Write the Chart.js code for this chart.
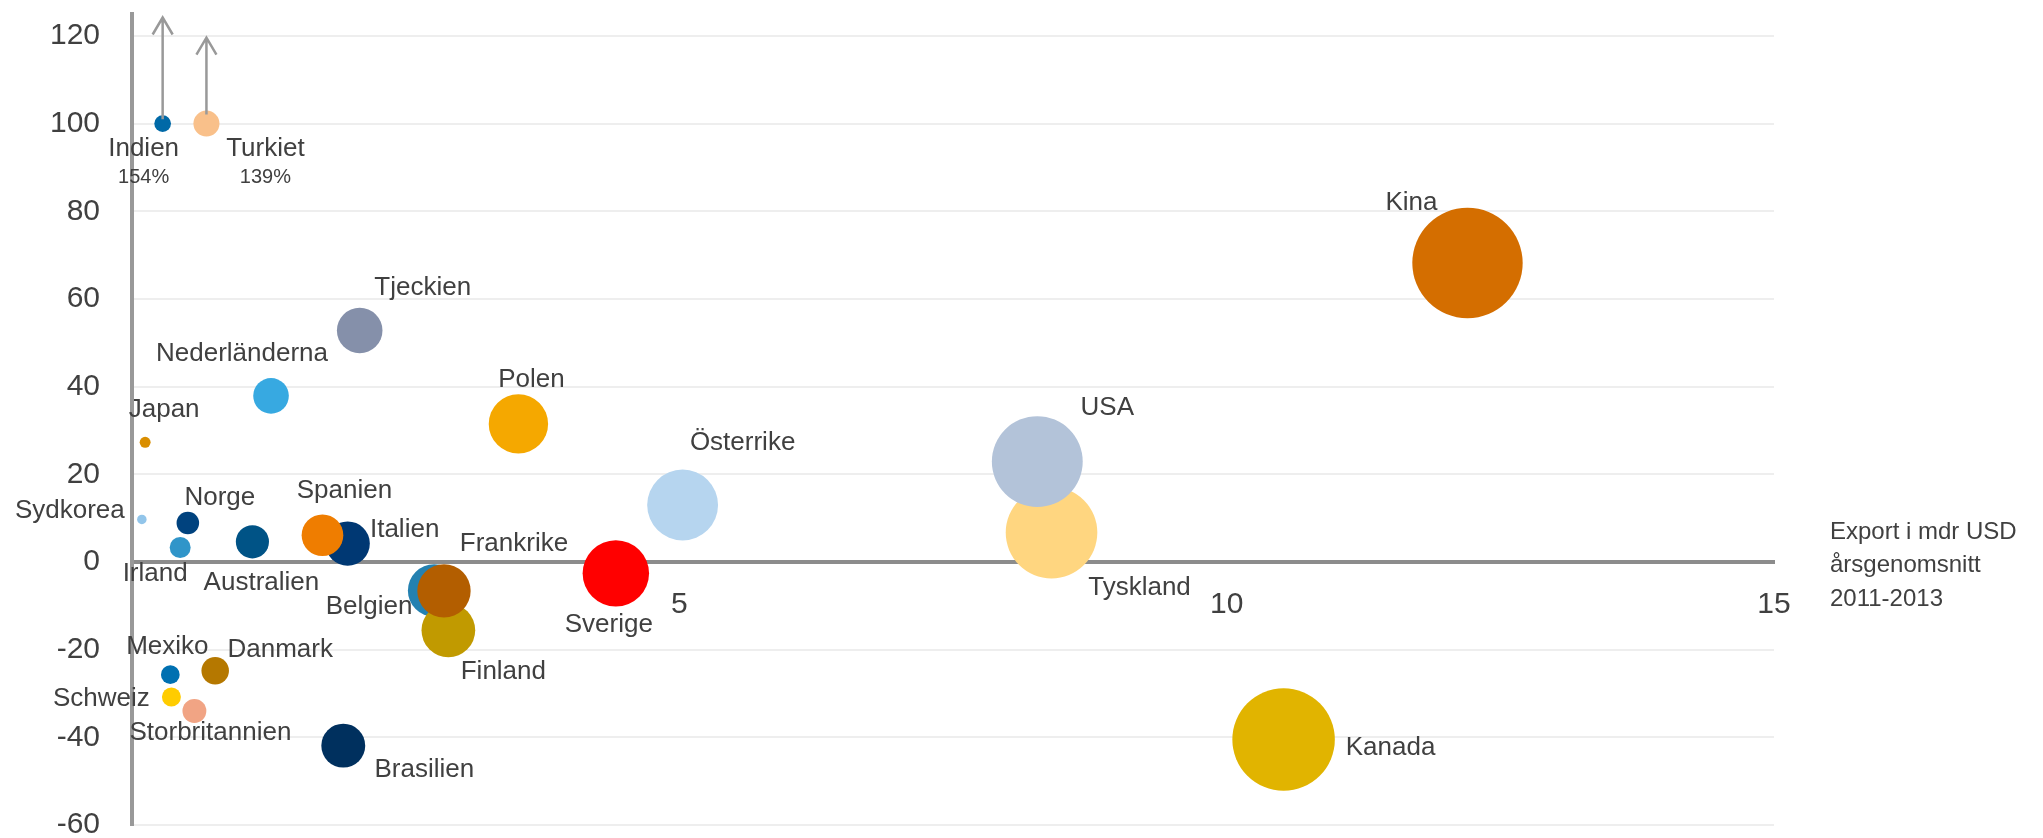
<!DOCTYPE html>
<html lang="sv">
<head>
    <meta charset="UTF-8">
    <title>Export och tillväxt per land</title>
    <style>
        body {
            margin: 0;
            padding: 0;
            background-color: #ffffff;
        }
        #wrap {
            width: 2043px;
            height: 838px;
            position: relative;
        }
    </style>
</head>
<body>
    <div id="wrap"><canvas id="exportChart"></canvas></div>
    <script src="https://cdn.jsdelivr.net/npm/chart.js"></script>
    <script>
        // data, in drawing order (later points are drawn on top)
        const countries = ['Indien', 'Turkiet', 'Kina', 'Tjeckien', 'Nederländerna', 'Japan', 'Polen', 'Österrike',
            'Tyskland', 'USA', 'Sydkorea', 'Norge', 'Irland', 'Australien', 'Italien', 'Spanien', 'Belgien',
            'Finland', 'Frankrike', 'Sverige', 'Mexiko', 'Danmark', 'Schweiz', 'Storbritannien', 'Brasilien', 'Kanada'];
        // export, mdr USD (annual average 2011-2013) - also sets bubble area
        const exportValues = [0.28, 0.68, 12.2, 2.08, 1.27, 0.12, 3.53, 5.03,
            8.4, 8.27, 0.09, 0.51, 0.44, 1.10, 1.97, 1.74, 2.76,
            2.89, 2.85, 4.42, 0.35, 0.76, 0.36, 0.57, 1.93, 10.52];
        // growth, %
        const growthValues = [154, 139, 68.2, 52.8, 37.9, 27.3, 31.5, 13.0,
            6.7, 22.9, 9.7, 8.9, 3.3, 4.6, 4.2, 6.1, -6.5,
            -15.6, -6.6, -2.6, -25.7, -24.8, -30.8, -34.0, -41.9, -40.5];
        const yTicks = [-60, -40, -20, 0, 20, 40, 60, 80, 100, 120];
        const xTicks = [5, 10, 15];
        const growthCap = 100; // values above this are drawn at the cap with an arrow
        const xTitle = ['Export i mdr USD', 'årsgenomsnitt', '2011-2013'];

        // styling
        const colors = ['#0069a7', '#f9c08a', '#d46e00', '#8590aa', '#37a9e1', '#d98e00', '#f5a800', '#b6d5ef',
            '#ffd680', '#b3c3d9', '#92c5ea', '#00427e', '#3095c9', '#005386', '#003873', '#ef7d00', '#2481b1',
            '#c19a00', '#b35e00', '#ff0000', '#0070b1', '#b57800', '#ffcc00', '#f1a484', '#00305e', '#e1b400'];
        // label centre offsets from the bubble centre, px
        const labelOffsets = [[-19, 25], [59, 25], [-56, -60], [63, -43], [-29, -42], [19, -32], [13, -44], [60, -62],
            [88, 55], [70, -54], [-72, -9], [32, -25], [-25, 26], [9, 41], [57, -14], [22, -44], [-65, 16],
            [55, 41], [70, -47], [-7, 51], [-3, -28], [65, -21], [-70, 2], [16, 22], [81, 24], [107, 8]];
        const arrowTips = { Indien: 124.2, Turkiet: 119.6 };
        const textColor = '#404040';
        const fontFamily = '"Liberation Sans", Arial, sans-serif';

        const points = countries.map((c, i) => ({
            x: exportValues[i],
            y: Math.min(growthValues[i], growthCap)
        }));

        const labelPlugin = {
            id: 'bubbleLabels',
            afterDatasetsDraw(chart) {
                const ctx = chart.ctx;
                const meta = chart.getDatasetMeta(0);
                const yScale = chart.scales.y;
                ctx.save();

                // arrows for values above the cap
                ctx.strokeStyle = '#999999';
                ctx.lineWidth = 2.5;
                meta.data.forEach((pt, i) => {
                    if (growthValues[i] <= growthCap) return;
                    const tipY = yScale.getPixelForValue(arrowTips[countries[i]]);
                    const r = pt.options.radius;
                    ctx.beginPath();
                    ctx.moveTo(pt.x, pt.y - r + 4);
                    ctx.lineTo(pt.x, tipY);
                    ctx.moveTo(pt.x - 10, tipY + 17);
                    ctx.lineTo(pt.x, tipY);
                    ctx.lineTo(pt.x + 10, tipY + 17);
                    ctx.stroke();
                });

                ctx.fillStyle = textColor;
                ctx.textAlign = 'center';
                ctx.textBaseline = 'middle';
                meta.data.forEach((pt, i) => {
                    const [dx, dy] = labelOffsets[i];
                    ctx.font = '26px ' + fontFamily;
                    ctx.fillText(countries[i], pt.x + dx, pt.y + dy);
                    if (growthValues[i] > growthCap) {
                        ctx.font = '20px ' + fontFamily;
                        ctx.fillText(growthValues[i] + '%', pt.x + dx, pt.y + dy + 29);
                    }
                });

                // x axis title, right of the plot
                const area = chart.chartArea;
                const zeroY = yScale.getPixelForValue(0);
                ctx.font = '24px ' + fontFamily;
                ctx.textAlign = 'left';
                xTitle.forEach((line, k) => {
                    ctx.fillText(line, area.right + 56, zeroY - 30 + k * 33.5);
                });
                ctx.restore();
            }
        };

        const ctx = document.getElementById('exportChart').getContext('2d');
        new Chart(ctx, {
            type: 'bubble',
            data: {
                datasets: [{
                    label: 'Länder',
                    data: points,
                    backgroundColor: colors,
                    borderWidth: 0,
                    radius: c => 15.8 * Math.sqrt(exportValues[c.dataIndex])
                }]
            },
            options: {
                responsive: true,
                maintainAspectRatio: false,
                animation: false,
                events: [],
                layout: {
                    autoPadding: false,
                    padding: { top: 14, bottom: 13, left: 0, right: 269 }
                },
                plugins: {
                    legend: { display: false },
                    tooltip: { enabled: false }
                },
                scales: {
                    x: {
                        type: 'linear',
                        position: { y: 0 },
                        min: 0,
                        max: 15,
                        afterBuildTicks: s => { s.ticks = xTicks.map(v => ({ value: v })); },
                        afterFit: s => { s.paddingLeft = 0; s.paddingRight = 0; },
                        ticks: {
                            color: textColor,
                            font: { size: 30, family: fontFamily },
                            padding: 25,
                            maxRotation: 0,
                            autoSkip: false
                        },
                        grid: { drawOnChartArea: false, drawTicks: false },
                        border: { display: true, color: '#8c8c8c', width: 4 }
                    },
                    y: {
                        type: 'linear',
                        min: -60,
                        max: 125,
                        afterBuildTicks: s => { s.ticks = yTicks.map(v => ({ value: v })); },
                        afterFit: s => { s.width = 132; s.paddingTop = 0; s.paddingBottom = 0; },
                        ticks: {
                            color: textColor,
                            font: { size: 30, family: fontFamily },
                            padding: 32
                        },
                        grid: { color: '#eeeeee', lineWidth: 2, drawTicks: false },
                        border: { display: true, color: '#999999', width: 4 }
                    }
                }
            },
            plugins: [labelPlugin]
        });
    </script>
</body>
</html>
